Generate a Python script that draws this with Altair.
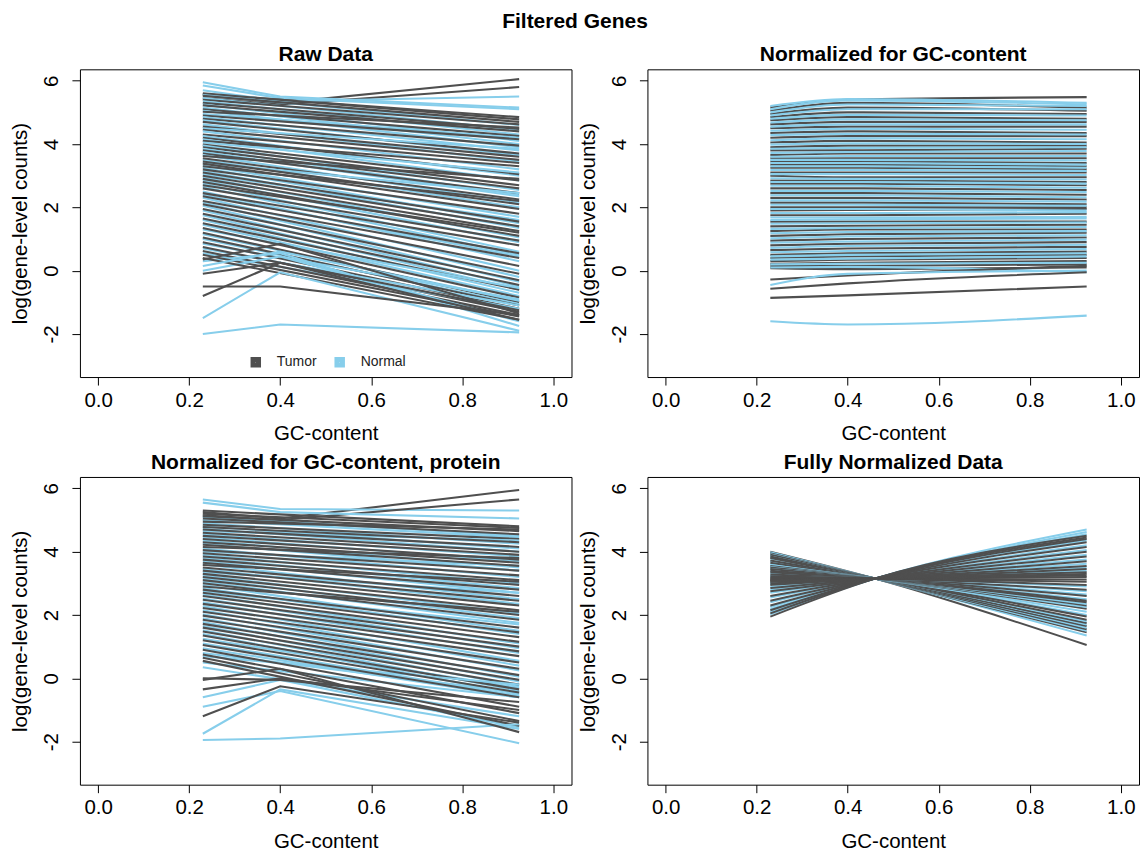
import altair as alt
import pandas as pd

# ---------------- data ----------------
GC_FIRST = 0.23          # lowest GC-content bin where curves start
GC_LAST = 0.925          # highest GC-content bin where curves end
GC_KNOT = 0.40           # intermediate GC-content value used for bent curves
GC_PIVOT = 0.46          # GC-content where fully normalised curves cross
PIVOT_VALUE = 3.15       # log count at the crossing point

# Each tuple is one curve: (start, end) or (start, value at knot, end)
raw_tumor = [
    (5.55, 5.30, 6.05), (5.45, 5.25, 5.80), (5.58, 4.85),
    (5.60, 4.78), (5.52, 4.70), (5.40, 4.62), (5.30, 4.48), (5.22, 4.40),
    (5.10, 4.25), (5.02, 4.52), (4.90, 4.15), (4.80, 3.95), (4.70, 3.70),
    (4.55, 3.60), (4.45, 3.50), (4.30, 3.40), (4.20, 3.05), (4.10, 3.30),
    (3.98, 2.85), (3.90, 2.70), (3.80, 2.60), (3.70, 2.45), (3.62, 2.90),
    (3.55, 2.25), (3.45, 2.10), (3.38, 1.95), (3.30, 2.20), (3.20, 1.80),
    (3.10, 1.55), (3.00, 1.40), (2.90, 1.25), (2.80, 1.10), (2.70, 1.20),
    (2.60, 0.95), (2.45, 0.80), (2.35, 0.55), (2.20, 0.40), (2.10, 0.15),
    (1.95, -0.10), (1.80, -0.30), (1.65, -0.45), (1.50, -0.60), (1.35, -0.85),
    (1.20, -1.00), (1.05, -1.10), (0.90, -1.20), (0.75, -1.30), (0.62, -1.40),
    (0.50, -1.45), (0.40, -1.55), (0.35, 0.85, -1.35), (-0.10, 0.25, -1.25),
    (-0.50, -0.50, -1.40), (-0.80, 0.25, -1.55),
]
raw_normal = [
    (5.95, 5.50, 5.15), (5.85, 5.45, 5.10), (5.70, 5.35, 5.50),
    (5.55, 4.60), (5.45, 4.45), (5.35, 4.30), (5.25, 4.10), (5.15, 4.00),
    (5.05, 3.90), (4.95, 4.20), (4.85, 3.80), (4.75, 3.65), (4.62, 3.45),
    (4.50, 3.85), (4.40, 3.20), (4.25, 3.00), (4.15, 2.85), (4.05, 3.10),
    (3.95, 2.55), (3.85, 2.40), (3.75, 2.35), (3.65, 2.15), (3.50, 2.00),
    (3.40, 2.45), (3.32, 1.70), (3.25, 1.50), (3.15, 1.35), (3.05, 1.60),
    (2.95, 1.05), (2.85, 0.90), (2.75, 0.60), (2.65, 0.50), (2.50, 0.30),
    (2.40, 0.45), (2.30, 0.00), (2.15, -0.20), (2.05, -0.35), (1.90, -0.50),
    (1.75, -0.60), (1.60, -0.70), (1.45, -0.80), (1.30, -0.55), (1.15, -0.95),
    (1.00, -1.05), (0.85, -0.90), (0.70, -1.10), (0.55, -1.20),
    (0.30, 0.55, -1.75), (0.00, 0.45, -1.60), (0.15, 0.60, -0.95),
    (-1.50, -0.05, -1.90), (-2.00, -1.70, -1.95),
]

gc_tumor = [
    (5.15, 5.40, 5.48), (5.05, 5.30, 5.15), (4.95, 5.15, 5.05), (4.85, 5.00, 4.95),
    (4.75, 4.85, 4.80), (4.62, 4.70, 4.70), (4.50, 4.55, 4.55), (4.35, 4.40, 4.35),
    (4.20, 4.25, 4.25), (4.05, 4.10, 4.05), (3.90, 3.95, 3.95), (3.80, 3.80, 3.85),
    (3.65, 3.70, 3.70), (3.55, 3.55, 3.55), (3.45, 3.45, 3.40), (3.35, 3.35, 3.30),
    (3.25, 3.25, 3.20), (3.10, 3.10, 3.10), (3.00, 2.95, 2.95), (2.85, 2.85, 2.80),
    (2.75, 2.75, 2.70), (2.60, 2.60, 2.55), (2.45, 2.45, 2.40), (2.30, 2.30, 2.25),
    (2.15, 2.15, 2.10), (2.00, 2.00, 2.00), (1.90, 1.92, 1.95), (1.75, 1.75, 1.80),
    (1.55, 1.55, 1.55), (1.40, 1.42, 1.45), (1.25, 1.30, 1.30), (1.10, 1.15, 1.20),
    (0.95, 1.00, 1.05), (0.80, 0.85, 0.90), (0.65, 0.70, 0.75), (0.50, 0.55, 0.60),
    (0.40, 0.45, 0.50), (0.30, 0.35, 0.40), (0.22, 0.25, 0.30), (0.15, 0.15, 0.20),
    (0.08, 0.05, 0.10), (-0.28, -0.15, 0.15), (-0.57, -0.40, -0.05),
    (-0.86, -0.78, -0.50),
]
gc_normal = [
    (5.20, 5.42, 5.30), (5.10, 5.38, 5.25), (5.00, 5.25, 5.20), (4.90, 5.10, 5.10),
    (4.80, 4.92, 4.90), (4.68, 4.78, 4.75), (4.55, 4.62, 4.62), (4.42, 4.48, 4.45),
    (4.28, 4.32, 4.30), (4.12, 4.18, 4.15), (3.98, 4.02, 4.00), (3.85, 3.88, 3.90),
    (3.72, 3.75, 3.78), (3.60, 3.62, 3.62), (3.50, 3.50, 3.48), (3.40, 3.40, 3.35),
    (3.30, 3.30, 3.25), (3.18, 3.18, 3.15), (3.05, 3.05, 3.02), (2.92, 2.90, 2.88),
    (2.80, 2.80, 2.75), (2.68, 2.68, 2.62), (2.52, 2.52, 2.48), (2.38, 2.38, 2.32),
    (2.22, 2.22, 2.18), (2.08, 2.08, 2.05), (1.95, 1.95, 1.90), (1.82, 1.82, 1.85),
    (1.68, 1.68, 1.70), (1.60, 1.62, 1.65), (1.48, 1.50, 1.52), (1.32, 1.35, 1.38),
    (1.18, 1.22, 1.25), (1.02, 1.08, 1.12), (0.88, 0.92, 0.98), (0.72, 0.78, 0.82),
    (0.58, 0.62, 0.68), (0.45, 0.50, 0.55), (0.35, 0.38, 0.45), (0.20, 0.22, 0.25),
    (0.10, 0.12, -0.05), (-0.45, -0.10, 0.00), (-1.60, -1.70, -1.42),
]

protein_tumor = [
    (5.25, 5.05, 5.95), (5.15, 5.00, 5.65),
    (5.30, 4.80), (5.20, 4.75), (5.12, 4.65), (5.05, 4.55), (4.95, 4.70),
    (4.85, 4.40), (4.78, 4.30), (4.70, 4.15), (4.60, 4.00), (4.50, 3.90),
    (4.40, 3.75), (4.30, 3.65), (4.22, 3.55), (4.15, 3.80), (4.05, 3.40),
    (3.95, 3.25), (3.85, 3.10), (3.75, 2.95), (3.65, 2.80), (3.58, 3.05),
    (3.50, 2.60), (3.40, 2.45), (3.30, 2.30), (3.20, 2.15), (3.10, 2.00),
    (3.00, 1.85), (2.90, 2.10), (2.80, 1.60), (2.70, 1.45), (2.60, 1.30),
    (2.48, 1.15), (2.35, 1.00), (2.22, 0.85), (2.10, 0.70), (1.98, 0.50),
    (1.85, 0.30), (1.72, 0.10), (1.60, -0.05), (1.48, -0.20), (1.35, -0.35),
    (1.20, -0.45), (1.05, -0.60), (0.90, -0.90), (0.75, -1.10), (0.65, -1.35),
    (0.55, -1.50), (-0.05, 0.30, -1.70), (-0.35, 0.00, -1.00),
    (-1.20, -0.25, -1.40), (0.00, -0.05, -0.75),
]
protein_normal = [
    (5.65, 5.35, 5.30), (5.55, 5.25, 5.05),
    (5.10, 4.50), (5.00, 4.45), (4.90, 4.25), (4.80, 4.10), (4.72, 4.00),
    (4.65, 4.35), (4.55, 3.85), (4.45, 3.70), (4.35, 3.50), (4.25, 3.40),
    (4.10, 3.20), (4.00, 3.55), (3.90, 3.00), (3.80, 2.85), (3.70, 2.70),
    (3.60, 2.50), (3.45, 2.35), (3.35, 2.70), (3.25, 2.05), (3.15, 1.90),
    (3.05, 1.75), (2.95, 1.50), (2.85, 1.40), (2.75, 1.70), (2.65, 1.10),
    (2.52, 0.95), (2.40, 0.80), (2.28, 0.55), (2.15, 0.40), (2.02, 0.25),
    (1.90, 0.05), (1.78, -0.10), (1.65, -0.25), (1.52, -0.40), (1.40, -0.50),
    (1.25, -0.30), (1.10, -0.55), (0.95, -0.60), (0.80, -0.45), (0.70, -0.20),
    (0.50, -0.60), (0.35, -1.20), (-0.60, -0.05, -1.55), (-0.90, -0.40, -2.05),
    (-1.75, -0.35, -1.60), (-1.95, -1.90, -1.45),
]

# fully normalised curves: (start, end); all pass through the pivot
full_tumor = [
    (4.00, 1.05), (3.95, 1.45), (3.90, 1.55), (3.85, 1.65), (3.80, 1.75),
    (3.72, 1.85), (3.65, 1.95), (3.55, 2.20), (3.50, 2.30), (3.45, 2.40),
    (3.40, 2.45), (3.35, 2.60), (3.28, 2.80), (3.22, 2.95), (3.18, 3.05),
    (3.15, 3.12), (3.12, 3.20), (3.10, 3.25), (3.08, 3.30), (3.05, 3.35),
    (3.00, 3.45), (2.95, 3.55), (2.85, 3.70), (2.75, 3.85), (2.60, 4.00),
    (2.45, 4.15), (2.30, 4.30), (2.15, 4.40), (2.05, 4.45), (1.95, 4.50),
]
full_normal = [
    (3.98, 1.35), (3.92, 1.50), (3.85, 1.60), (3.78, 1.70), (3.70, 1.80),
    (3.62, 2.00), (3.58, 2.10), (3.52, 2.25), (3.45, 2.35), (3.38, 2.50),
    (3.32, 2.65), (3.25, 2.75), (3.20, 2.90), (3.02, 3.40), (2.98, 3.50),
    (2.90, 3.62), (2.80, 3.75), (2.70, 3.90), (2.55, 4.05), (2.40, 4.20),
    (2.25, 4.35), (2.18, 4.55), (2.10, 4.62), (2.02, 4.70),
]

GROUPS = ["Tumor", "Normal"]
COLORS = ["#4f4f4f", "#87ceeb"]
X_TICKS = [0.0, 0.2, 0.4, 0.6, 0.8, 1.0]
Y_TICKS = [-2, 0, 2, 4, 6]


def to_frame(tumor, normal, knot, pivot=None):
    rows = []
    lid = 0
    for i in range(max(len(tumor), len(normal))):
        for grp, lst in (("Tumor", tumor), ("Normal", normal)):
            if i >= len(lst):
                continue
            vals = list(lst[i])
            if pivot is not None:
                vals = [vals[0], pivot, vals[1]]
            xs = [GC_FIRST, GC_LAST] if len(vals) == 2 else [GC_FIRST, knot, GC_LAST]
            for k, (x, y) in enumerate(zip(xs, vals)):
                rows.append({"line": lid, "group": grp, "gc": x, "value": y, "k": k})
            lid += 1
    return pd.DataFrame(rows)


FONT = "Liberation Sans"
xscale = alt.Scale(domain=[-0.04, 1.04], nice=False, zero=False)
yscale = alt.Scale(domain=[-3.36, 6.36], nice=False, zero=False)
stroke_scale = alt.Scale(domain=GROUPS, range=COLORS)
legend = alt.Legend(
    title=None, orient="none", direction="horizontal",
    legendX=169, legendY=286, symbolType="square", symbolSize=30,
    symbolStrokeWidth=5, symbolOpacity=1,
    labelFont=FONT, labelFontSize=14, labelColor="#222222",
    labelOffset=14, columnPadding=10, padding=0,
)


def panel(df, title, interp, width):
    return alt.Chart(df).mark_line(strokeWidth=width, interpolate=interp).encode(
        x=alt.X("gc:Q", scale=xscale,
                axis=alt.Axis(values=X_TICKS, format=".1f", title="GC-content")),
        y=alt.Y("value:Q", scale=yscale,
                axis=alt.Axis(values=Y_TICKS, title="log(gene-level counts)",
                              labelAngle=270, labelExpr="'' + datum.value")),
        stroke=alt.Stroke("group:N", scale=stroke_scale, legend=legend),
        detail="line:N",
        order="k:Q",
    ).properties(
        width=492, height=308,
        title=alt.Title(title, font=FONT, fontSize=21, fontWeight="bold",
                        color="black", offset=4),
    )


p1 = panel(to_frame(raw_tumor, raw_normal, GC_KNOT), "Raw Data", "linear", 2.1)
p2 = panel(to_frame(gc_tumor, gc_normal, GC_KNOT), "Normalized for GC-content",
           "monotone", 2.1)
p3 = panel(to_frame(protein_tumor, protein_normal, GC_KNOT),
           "Normalized for GC-content, protein", "linear", 2.1)
p4 = panel(to_frame(full_tumor, full_normal, GC_PIVOT, PIVOT_VALUE),
           "Fully Normalized Data", "monotone", 2.0)

chart = alt.vconcat(
    alt.hconcat(p1, p2, spacing=5),
    alt.hconcat(p3, p4, spacing=5),
    spacing=6,
).properties(
    title=alt.Title("Filtered Genes", font=FONT, fontSize=21, fontWeight="bold",
                    color="black", anchor="middle", offset=12),
    padding={"left": 10, "top": 10, "right": 4, "bottom": 2},
    background="white",
).configure_view(
    stroke="black", strokeWidth=1,
).configure_axis(
    domain=False, grid=False, tickColor="black", tickSize=8, tickWidth=1,
    labelColor="black", titleColor="black", labelFont=FONT, titleFont=FONT,
    titleFontWeight="normal",
).configure_axisX(
    labelFontSize=20.5, titleFontSize=20.5, labelPadding=5, titlePadding=13,
).configure_axisY(
    labelFontSize=20.5, titleFontSize=20.5, labelPadding=10, titlePadding=11,
)

chart.save("out.html", embed_options={"renderer": "svg", "actions": False})
